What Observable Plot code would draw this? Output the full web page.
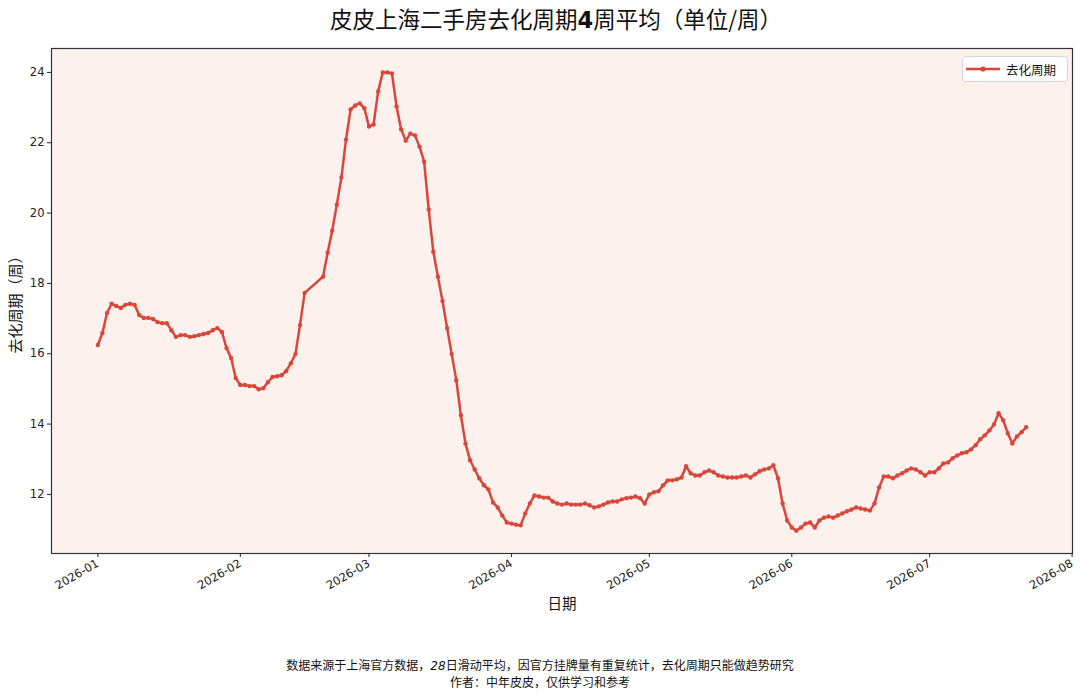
<!DOCTYPE html>
<html>
<head>
<meta charset="utf-8">
<script src="https://cdn.jsdelivr.net/npm/d3@7"></script>
<script src="https://cdn.jsdelivr.net/npm/@observablehq/plot@0.6"></script>
<style>
  html, body { margin: 0; padding: 0; background: #fff; }
  #wrap { position: relative; width: 1080px; height: 697px; overflow: hidden; font-family: "Noto Sans CJK SC", "DejaVu Sans", sans-serif; }
  #title { position: absolute; top: 2px; left: 0; width: 1112px; text-align: center; font-size: 22.5px; color: #111; }
  #title b { font-family: "DejaVu Sans", sans-serif; font-weight: bold; }
  #footer { position: absolute; top: 657px; left: 0; width: 1080px; text-align: center; font-size: 12px; line-height: 16px; color: #111; }
  #footer i { font-family: "DejaVu Sans", sans-serif; }
  #legend { position: absolute; left: 962px; top: 56px; width: 106px; height: 26px; background: rgba(255,255,255,0.85); border: 1px solid #d6d6d6; border-radius: 3px; box-sizing: border-box; display: flex; align-items: center; font-size: 12.5px; color: #111; }
  #legend svg { margin-left: 3px; margin-right: 6px; }
  #chart { position: absolute; left: 0; top: 0; }
</style>
</head>
<body>
<div id="wrap">
  <div id="chart"></div>
  <div id="title">皮皮上海二手房去化周期<b>4</b>周平均（单位/周）</div>
  <div id="legend"><svg width="34" height="10"><line x1="0" y1="5" x2="34" y2="5" stroke="#d9463b" stroke-width="2.5"/><circle cx="17" cy="5" r="2.6" fill="#d9463b"/></svg>去化周期</div>
  <div id="footer">数据来源于上海官方数据，<i>28</i>日滑动平均，因官方挂牌量有重复统计，去化周期只能做趋势研究<br>作者：中年皮皮，仅供学习和参考</div>
</div>
<script>
const seriesName = "去化周期";
const dates = [
  "2026-01-01","2026-01-02","2026-01-03","2026-01-04","2026-01-05","2026-01-06","2026-01-07","2026-01-08","2026-01-09","2026-01-10",
  "2026-01-11","2026-01-12","2026-01-13","2026-01-14","2026-01-15","2026-01-16","2026-01-17","2026-01-18","2026-01-19","2026-01-20",
  "2026-01-21","2026-01-22","2026-01-23","2026-01-24","2026-01-25","2026-01-26","2026-01-27","2026-01-28","2026-01-29","2026-01-30","2026-01-31",
  "2026-02-01","2026-02-02","2026-02-03","2026-02-04","2026-02-05","2026-02-06","2026-02-07","2026-02-08","2026-02-09","2026-02-10",
  "2026-02-11","2026-02-12","2026-02-13","2026-02-14","2026-02-15",
  "2026-02-19","2026-02-20","2026-02-21","2026-02-22","2026-02-23","2026-02-24","2026-02-25","2026-02-26","2026-02-27","2026-02-28",
  "2026-03-01","2026-03-02","2026-03-03","2026-03-04","2026-03-05","2026-03-06","2026-03-07","2026-03-08","2026-03-09","2026-03-10",
  "2026-03-11","2026-03-12","2026-03-13","2026-03-14","2026-03-15","2026-03-16","2026-03-17","2026-03-18","2026-03-19","2026-03-20",
  "2026-03-21","2026-03-22","2026-03-23","2026-03-24","2026-03-25","2026-03-26","2026-03-27","2026-03-28","2026-03-29","2026-03-30","2026-03-31",
  "2026-04-01","2026-04-02","2026-04-03","2026-04-04","2026-04-05","2026-04-06","2026-04-07","2026-04-08","2026-04-09","2026-04-10",
  "2026-04-11","2026-04-12","2026-04-13","2026-04-14","2026-04-15","2026-04-16","2026-04-17","2026-04-18","2026-04-19","2026-04-20",
  "2026-04-21","2026-04-22","2026-04-23","2026-04-24","2026-04-25","2026-04-26","2026-04-27","2026-04-28","2026-04-29","2026-04-30",
  "2026-05-01","2026-05-02","2026-05-03","2026-05-04","2026-05-05","2026-05-06","2026-05-07","2026-05-08","2026-05-09","2026-05-10",
  "2026-05-11","2026-05-12","2026-05-13","2026-05-14","2026-05-15","2026-05-16","2026-05-17","2026-05-18","2026-05-19","2026-05-20",
  "2026-05-21","2026-05-22","2026-05-23","2026-05-24","2026-05-25","2026-05-26","2026-05-27","2026-05-28","2026-05-29","2026-05-30","2026-05-31",
  "2026-06-01","2026-06-02","2026-06-03","2026-06-04","2026-06-05","2026-06-06","2026-06-07","2026-06-08","2026-06-09","2026-06-10",
  "2026-06-11","2026-06-12","2026-06-13","2026-06-14","2026-06-15","2026-06-16","2026-06-17","2026-06-18","2026-06-19","2026-06-20",
  "2026-06-21","2026-06-22","2026-06-23","2026-06-24","2026-06-25","2026-06-26","2026-06-27","2026-06-28","2026-06-29","2026-06-30",
  "2026-07-01","2026-07-02","2026-07-03","2026-07-04","2026-07-05","2026-07-06","2026-07-07","2026-07-08","2026-07-09","2026-07-10",
  "2026-07-11","2026-07-12","2026-07-13","2026-07-14","2026-07-15","2026-07-16","2026-07-17","2026-07-18","2026-07-19","2026-07-20",
  "2026-07-21","2026-07-22"
];
const values = [
  16.25,16.59,17.16,17.42,17.36,17.30,17.39,17.42,17.39,17.10,
  17.02,17.02,16.99,16.90,16.87,16.87,16.67,16.48,16.53,16.53,
  16.48,16.50,16.53,16.56,16.59,16.67,16.73,16.62,16.16,15.88,15.31,
  15.11,15.11,15.08,15.08,14.99,15.02,15.19,15.34,15.36,15.39,
  15.51,15.73,15.99,16.82,17.73,
  18.19,18.87,19.50,20.24,21.01,22.09,22.95,23.06,23.12,22.98,
  22.46,22.52,23.46,24.00,24.00,23.97,23.03,22.38,22.06,22.26,
  22.21,21.89,21.46,20.10,18.90,18.19,17.50,16.73,15.99,15.25,
  14.25,13.45,12.97,12.71,12.46,12.26,12.14,11.77,11.63,11.40,11.20,
  11.17,11.14,11.12,11.46,11.74,11.97,11.94,11.91,11.91,11.80,
  11.74,11.71,11.74,11.71,11.71,11.71,11.74,11.69,11.63,11.66,
  11.71,11.77,11.80,11.80,11.86,11.89,11.91,11.94,11.89,11.74,
  12.00,12.06,12.09,12.26,12.40,12.40,12.43,12.48,12.80,12.60,
  12.54,12.54,12.63,12.68,12.63,12.54,12.51,12.48,12.48,12.48,
  12.51,12.54,12.48,12.57,12.66,12.71,12.74,12.83,12.46,11.74,11.26,
  11.06,10.97,11.06,11.17,11.20,11.06,11.26,11.34,11.37,11.34,
  11.40,11.46,11.52,11.57,11.63,11.60,11.57,11.54,11.74,12.20,
  12.51,12.51,12.46,12.54,12.60,12.68,12.74,12.71,12.63,12.54,
  12.63,12.63,12.74,12.88,12.91,13.03,13.11,13.17,13.20,13.28,
  13.40,13.57,13.68,13.82,13.99,14.31,14.11,13.74,13.45,13.65,
  13.77,13.91
];
const yTicks = [12, 14, 16, 18, 20, 22, 24];
const xTicks = ["2026-01-01","2026-02-01","2026-03-01","2026-04-01","2026-05-01","2026-06-01","2026-07-01","2026-08-01"];

const data = dates.map((d, i) => ({date: new Date(d + "T00:00:00Z"), value: values[i]}));
const color = "#d9463b";

const chart = Plot.plot({
  width: 1080,
  height: 697,
  marginTop: 48,
  marginBottom: 144,
  marginLeft: 51,
  marginRight: 8,
  style: {fontFamily: "'DejaVu Sans', sans-serif", fontSize: "11px", color: "#222", background: "transparent", overflow: "visible"},
  x: {type: "utc", domain: [new Date("2025-12-21T22:00:00Z"), new Date("2026-08-01T02:00:00Z")]},
  y: {domain: [10.32, 24.68]},
  marks: [
    Plot.frame({fill: "#fdf1ee"}),
    Plot.line(data, {x: "date", y: "value", stroke: color, strokeWidth: 2.5, curve: "linear"}),
    Plot.dot(data, {x: "date", y: "value", fill: color, r: 2.2}),
    Plot.frame({stroke: "#333", strokeWidth: 1.2}),
    Plot.axisY({ticks: yTicks, tickSize: 4, tickPadding: 3, label: null, fontSize: 11.5}),
    Plot.axisX({ticks: xTicks.map(d => new Date(d + "T00:00:00Z")), tickFormat: d3.utcFormat("%Y-%m"), tickSize: 4, tickPadding: 5, tickRotate: -30, label: null, fontSize: 11.5}),
    Plot.text([seriesName + "（周）"], {frameAnchor: "left", textAnchor: "middle", dx: -35, rotate: -90, fontSize: 15, fontFamily: "Noto Sans CJK SC", fill: "#111"}),
    Plot.text(["日期"], {frameAnchor: "bottom", dy: 55, fontSize: 14.5, fontFamily: "Noto Sans CJK SC", fill: "#111"})
  ]
});
document.getElementById("chart").appendChild(chart);
</script>
</body>
</html>
